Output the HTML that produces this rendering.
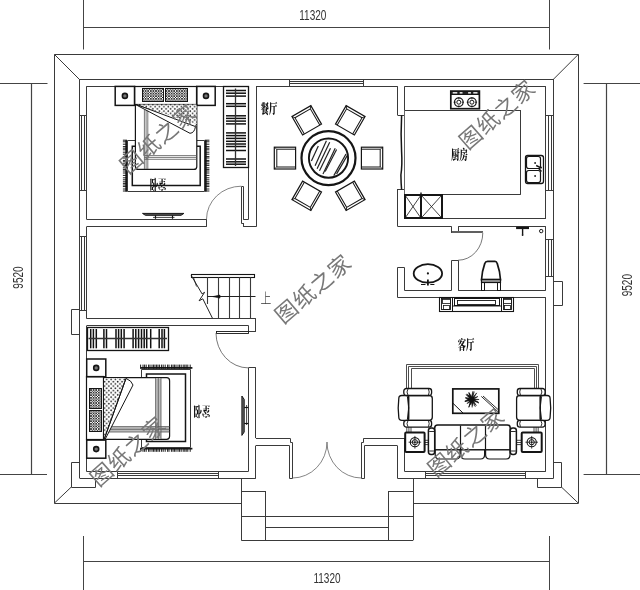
<!DOCTYPE html>
<html lang="zh"><head><meta charset="utf-8"><title>户型图</title>
<style>html,body{margin:0;padding:0;background:#fff}svg{display:block;will-change:transform}</style></head>
<body><svg width="640" height="590" viewBox="0 0 640 590">
<defs>
<pattern id="dots" width="4.4" height="4.4" patternUnits="userSpaceOnUse"><rect width="4.4" height="4.4" fill="#fff"/><circle cx="1.1" cy="1.1" r="0.85" fill="#222"/><circle cx="3.3" cy="3.3" r="0.85" fill="#222"/></pattern>
<pattern id="xh" width="2.6" height="2.6" patternUnits="userSpaceOnUse"><rect width="2.6" height="2.6" fill="#fff"/><path d="M0 0L2.6 2.6M2.6 0L0 2.6" stroke="#111" stroke-width="0.75"/></pattern>
</defs>
<rect width="640" height="590" fill="#fff"/>
<line x1="83.5" y1="0.0" x2="83.5" y2="49.5" stroke="#444" stroke-width="1"/>
<line x1="549.5" y1="0.0" x2="549.5" y2="49.5" stroke="#444" stroke-width="1"/>
<line x1="83.0" y1="27.5" x2="549.7" y2="27.5" stroke="#444" stroke-width="1.2"/>
<line x1="83.5" y1="536.0" x2="83.5" y2="590.0" stroke="#444" stroke-width="1"/>
<line x1="549.5" y1="536.0" x2="549.5" y2="590.0" stroke="#444" stroke-width="1"/>
<line x1="83.5" y1="561.5" x2="549.7" y2="561.5" stroke="#444" stroke-width="1.2"/>
<line x1="0.0" y1="83.5" x2="47.5" y2="83.5" stroke="#444" stroke-width="1"/>
<line x1="0.0" y1="474.5" x2="47.0" y2="474.5" stroke="#444" stroke-width="1"/>
<line x1="31.5" y1="83.2" x2="31.5" y2="474.7" stroke="#444" stroke-width="1.2"/>
<line x1="583.6" y1="83.5" x2="640.0" y2="83.5" stroke="#444" stroke-width="1"/>
<line x1="583.6" y1="474.5" x2="640.0" y2="474.5" stroke="#444" stroke-width="1"/>
<line x1="606.5" y1="83.2" x2="606.5" y2="474.7" stroke="#444" stroke-width="1.2"/>
<text transform="translate(312.8 20.3) rotate(0) scale(0.66 1)" font-family='"Liberation Sans", sans-serif' font-size="15.2" font-weight="normal" fill="#333" text-anchor="middle" >11320</text>
<text transform="translate(327.0 582.8) rotate(0) scale(0.66 1)" font-family='"Liberation Sans", sans-serif' font-size="15.2" font-weight="normal" fill="#333" text-anchor="middle" >11320</text>
<text transform="translate(23.2 277.5) rotate(-90) scale(0.66 1)" font-family='"Liberation Sans", sans-serif' font-size="15.2" font-weight="normal" fill="#333" text-anchor="middle" >9520</text>
<text transform="translate(632.0 285.2) rotate(-90) scale(0.66 1)" font-family='"Liberation Sans", sans-serif' font-size="15.2" font-weight="normal" fill="#333" text-anchor="middle" >9520</text>
<path d="M54.5 503.5 L54.5 54.5 L578.5 54.5 L578.5 503.5" fill="none" stroke="#3a3a3a" stroke-width="1"/>
<line x1="54.5" y1="54.5" x2="79.5" y2="79.5" stroke="#3a3a3a" stroke-width="1"/>
<line x1="578.2" y1="54.5" x2="553.7" y2="79.0" stroke="#3a3a3a" stroke-width="1"/>
<line x1="54.5" y1="503.0" x2="71.3" y2="487.0" stroke="#3a3a3a" stroke-width="1"/>
<line x1="578.2" y1="503.0" x2="561.4" y2="487.0" stroke="#3a3a3a" stroke-width="1"/>
<line x1="79.5" y1="79.5" x2="553.7" y2="79.5" stroke="#3a3a3a" stroke-width="1"/>
<line x1="79.5" y1="79.0" x2="79.5" y2="478.0" stroke="#3a3a3a" stroke-width="1"/>
<line x1="553.5" y1="79.0" x2="553.5" y2="478.0" stroke="#3a3a3a" stroke-width="1"/>
<line x1="79.5" y1="478.5" x2="255.9" y2="478.5" stroke="#3a3a3a" stroke-width="1"/>
<line x1="397.3" y1="478.5" x2="553.7" y2="478.5" stroke="#3a3a3a" stroke-width="1"/>
<path d="M79.5 462.5 L71.5 462.5 L71.5 487.5 L95.5 487.5 L95.5 478.5" fill="none" stroke="#3a3a3a" stroke-width="1"/>
<path d="M553.5 462.5 L561.5 462.5 L561.5 487.5 L537.5 487.5 L537.5 478.5" fill="none" stroke="#3a3a3a" stroke-width="1"/>
<path d="M79.5 309.5 L71.5 309.5 L71.5 334.5 L79.5 334.5" fill="none" stroke="#3a3a3a" stroke-width="1"/>
<path d="M553.5 281.5 L562.5 281.5 L562.5 305.5 L553.5 305.5" fill="none" stroke="#3a3a3a" stroke-width="1"/>
<line x1="86.5" y1="86.5" x2="248.6" y2="86.5" stroke="#3a3a3a" stroke-width="1"/>
<line x1="256.0" y1="86.5" x2="397.6" y2="86.5" stroke="#3a3a3a" stroke-width="1"/>
<line x1="404.6" y1="86.5" x2="545.8" y2="86.5" stroke="#3a3a3a" stroke-width="1"/>
<line x1="86.5" y1="86.3" x2="86.5" y2="219.3" stroke="#3a3a3a" stroke-width="1"/>
<line x1="86.5" y1="226.8" x2="86.5" y2="318.6" stroke="#3a3a3a" stroke-width="1"/>
<line x1="86.5" y1="325.9" x2="86.5" y2="471.5" stroke="#3a3a3a" stroke-width="1"/>
<line x1="545.5" y1="86.3" x2="545.5" y2="218.9" stroke="#3a3a3a" stroke-width="1"/>
<line x1="545.5" y1="226.4" x2="545.5" y2="290.3" stroke="#3a3a3a" stroke-width="1"/>
<line x1="545.5" y1="297.4" x2="545.5" y2="471.5" stroke="#3a3a3a" stroke-width="1"/>
<line x1="86.5" y1="471.5" x2="248.4" y2="471.5" stroke="#3a3a3a" stroke-width="1"/>
<line x1="404.6" y1="471.5" x2="545.8" y2="471.5" stroke="#3a3a3a" stroke-width="1"/>
<line x1="248.5" y1="86.3" x2="248.5" y2="219.3" stroke="#3a3a3a" stroke-width="1"/>
<line x1="256.5" y1="86.3" x2="256.5" y2="226.8" stroke="#3a3a3a" stroke-width="1"/>
<line x1="243.3" y1="219.5" x2="248.6" y2="219.5" stroke="#3a3a3a" stroke-width="1"/>
<line x1="243.5" y1="223.0" x2="243.5" y2="226.8" stroke="#3a3a3a" stroke-width="1"/>
<line x1="243.3" y1="226.5" x2="256.0" y2="226.5" stroke="#3a3a3a" stroke-width="1"/>
<path d="M243.5 219.5 L243.5 186.5 L241.5 186.5 L241.5 223.5 L243.5 223.5" fill="none" stroke="#3a3a3a" stroke-width="1"/>
<path d="M206.5 219.3 A34.8 33.1 0 0 1 241.3 186.2" fill="none" stroke="#666" stroke-width="0.8" />
<line x1="86.5" y1="219.5" x2="206.5" y2="219.5" stroke="#3a3a3a" stroke-width="1"/>
<line x1="86.5" y1="226.5" x2="206.5" y2="226.5" stroke="#3a3a3a" stroke-width="1"/>
<line x1="206.5" y1="219.3" x2="206.5" y2="226.8" stroke="#3a3a3a" stroke-width="1"/>
<line x1="397.5" y1="86.3" x2="397.5" y2="115.2" stroke="#3a3a3a" stroke-width="1"/>
<line x1="404.5" y1="86.3" x2="404.5" y2="115.2" stroke="#3a3a3a" stroke-width="1"/>
<line x1="397.6" y1="115.5" x2="404.6" y2="115.5" stroke="#3a3a3a" stroke-width="1"/>
<line x1="397.6" y1="189.5" x2="404.6" y2="189.5" stroke="#3a3a3a" stroke-width="1"/>
<line x1="397.5" y1="189.0" x2="397.5" y2="226.4" stroke="#3a3a3a" stroke-width="1"/>
<line x1="404.5" y1="189.0" x2="404.5" y2="218.9" stroke="#3a3a3a" stroke-width="1"/>
<path d="M401.6 115.3 Q400.6 135 401.6 152 Q402.4 165 400.9 175 Q401 183 401.6 189.6" fill="none" stroke="#151515" stroke-width="1.5" />
<line x1="404.6" y1="218.5" x2="545.8" y2="218.5" stroke="#3a3a3a" stroke-width="1"/>
<line x1="397.6" y1="226.5" x2="451.5" y2="226.5" stroke="#3a3a3a" stroke-width="1"/>
<line x1="458.2" y1="226.5" x2="545.8" y2="226.5" stroke="#3a3a3a" stroke-width="1"/>
<line x1="451.5" y1="226.4" x2="451.5" y2="232.7" stroke="#3a3a3a" stroke-width="1"/>
<line x1="458.5" y1="226.4" x2="458.5" y2="231.0" stroke="#3a3a3a" stroke-width="1"/>
<rect x="451.5" y="231.5" width="31.0" height="1.0" rx="0" fill="none" stroke="#3a3a3a" stroke-width="0.8"/>
<path d="M482.8 232.8 A24.6 27.4 0 0 1 458.2 260.2" fill="none" stroke="#555" stroke-width="0.8" />
<path d="M451.5 290.5 L451.5 260.5 L458.5 260.5 L458.5 290.5" fill="none" stroke="#3a3a3a" stroke-width="1"/>
<path d="M404.5 290.5 L404.5 267.5 L397.5 267.5 L397.5 297.5" fill="none" stroke="#3a3a3a" stroke-width="1"/>
<line x1="404.6" y1="290.5" x2="451.5" y2="290.5" stroke="#3a3a3a" stroke-width="1"/>
<line x1="458.2" y1="290.5" x2="545.8" y2="290.5" stroke="#3a3a3a" stroke-width="1"/>
<line x1="397.6" y1="297.5" x2="545.8" y2="297.5" stroke="#3a3a3a" stroke-width="1"/>
<line x1="86.5" y1="318.5" x2="255.9" y2="318.5" stroke="#3a3a3a" stroke-width="1"/>
<line x1="86.5" y1="325.5" x2="248.7" y2="325.5" stroke="#3a3a3a" stroke-width="1"/>
<line x1="248.5" y1="325.9" x2="248.5" y2="331.6" stroke="#3a3a3a" stroke-width="1"/>
<line x1="255.5" y1="318.6" x2="255.5" y2="331.6" stroke="#3a3a3a" stroke-width="1"/>
<line x1="248.7" y1="331.5" x2="255.9" y2="331.5" stroke="#3a3a3a" stroke-width="1"/>
<rect x="216.5" y="331.5" width="32.0" height="2.0" rx="0" fill="none" stroke="#151515" stroke-width="0.9"/>
<path d="M216 333 A32.4 35 0 0 0 248.4 367.9" fill="none" stroke="#555" stroke-width="0.8" />
<line x1="248.4" y1="367.5" x2="255.9" y2="367.5" stroke="#3a3a3a" stroke-width="1"/>
<line x1="248.5" y1="367.9" x2="248.5" y2="471.5" stroke="#3a3a3a" stroke-width="1"/>
<line x1="255.5" y1="367.9" x2="255.5" y2="438.0" stroke="#3a3a3a" stroke-width="1"/>
<line x1="255.9" y1="438.5" x2="290.4" y2="438.5" stroke="#3a3a3a" stroke-width="1"/>
<line x1="255.9" y1="445.5" x2="289.4" y2="445.5" stroke="#3a3a3a" stroke-width="1"/>
<line x1="255.5" y1="445.6" x2="255.5" y2="478.0" stroke="#3a3a3a" stroke-width="1"/>
<line x1="363.4" y1="438.5" x2="404.6" y2="438.5" stroke="#3a3a3a" stroke-width="1"/>
<line x1="364.6" y1="445.5" x2="397.3" y2="445.5" stroke="#3a3a3a" stroke-width="1"/>
<line x1="397.5" y1="445.6" x2="397.5" y2="478.0" stroke="#3a3a3a" stroke-width="1"/>
<line x1="404.5" y1="438.0" x2="404.5" y2="471.5" stroke="#3a3a3a" stroke-width="1"/>
<path d="M290.5 438.5 L290.5 442.5 L292.5 442.5 L292.5 478.5 L289.5 478.5 L289.5 445.5" fill="none" stroke="#3a3a3a" stroke-width="1"/>
<path d="M363.5 438.5 L363.5 442.5 L361.5 442.5 L361.5 478.5 L364.5 478.5 L364.5 445.5" fill="none" stroke="#3a3a3a" stroke-width="1"/>
<path d="M292.4 478 A34.6 36 0 0 0 327 442" fill="none" stroke="#666" stroke-width="0.8" />
<path d="M361.4 478 A34.4 36 0 0 1 327 442" fill="none" stroke="#666" stroke-width="0.8" />
<line x1="241.5" y1="478.0" x2="241.5" y2="540.3" stroke="#3a3a3a" stroke-width="1"/>
<line x1="413.5" y1="478.0" x2="413.5" y2="540.3" stroke="#3a3a3a" stroke-width="1"/>
<line x1="241.3" y1="540.5" x2="413.0" y2="540.5" stroke="#3a3a3a" stroke-width="1"/>
<line x1="241.3" y1="491.5" x2="265.4" y2="491.5" stroke="#3a3a3a" stroke-width="1"/>
<line x1="265.5" y1="491.0" x2="265.5" y2="540.3" stroke="#3a3a3a" stroke-width="1"/>
<line x1="388.2" y1="491.5" x2="413.0" y2="491.5" stroke="#3a3a3a" stroke-width="1"/>
<line x1="388.5" y1="491.0" x2="388.5" y2="540.3" stroke="#3a3a3a" stroke-width="1"/>
<line x1="241.3" y1="516.5" x2="413.0" y2="516.5" stroke="#3a3a3a" stroke-width="1"/>
<line x1="265.4" y1="527.5" x2="388.2" y2="527.5" stroke="#3a3a3a" stroke-width="1"/>
<line x1="54.5" y1="503.5" x2="241.3" y2="503.5" stroke="#3a3a3a" stroke-width="1"/>
<line x1="413.0" y1="503.5" x2="578.2" y2="503.5" stroke="#3a3a3a" stroke-width="1"/>
<line x1="81.5" y1="115.0" x2="81.5" y2="190.0" stroke="#3a3a3a" stroke-width="1"/>
<line x1="84.5" y1="115.0" x2="84.5" y2="190.0" stroke="#3a3a3a" stroke-width="1"/>
<line x1="79.5" y1="115.5" x2="86.5" y2="115.5" stroke="#3a3a3a" stroke-width="1"/>
<line x1="79.5" y1="190.5" x2="86.5" y2="190.5" stroke="#3a3a3a" stroke-width="1"/>
<line x1="81.5" y1="236.0" x2="81.5" y2="310.5" stroke="#3a3a3a" stroke-width="1"/>
<line x1="84.5" y1="236.0" x2="84.5" y2="310.5" stroke="#3a3a3a" stroke-width="1"/>
<line x1="79.5" y1="236.5" x2="86.5" y2="236.5" stroke="#3a3a3a" stroke-width="1"/>
<line x1="79.5" y1="310.5" x2="86.5" y2="310.5" stroke="#3a3a3a" stroke-width="1"/>
<line x1="548.5" y1="115.3" x2="548.5" y2="190.1" stroke="#3a3a3a" stroke-width="1"/>
<line x1="551.5" y1="115.3" x2="551.5" y2="190.1" stroke="#3a3a3a" stroke-width="1"/>
<line x1="545.8" y1="115.5" x2="553.7" y2="115.5" stroke="#3a3a3a" stroke-width="1"/>
<line x1="545.8" y1="190.5" x2="553.7" y2="190.5" stroke="#3a3a3a" stroke-width="1"/>
<line x1="548.5" y1="239.3" x2="548.5" y2="276.7" stroke="#3a3a3a" stroke-width="1"/>
<line x1="551.5" y1="239.3" x2="551.5" y2="276.7" stroke="#3a3a3a" stroke-width="1"/>
<line x1="545.8" y1="239.5" x2="553.7" y2="239.5" stroke="#3a3a3a" stroke-width="1"/>
<line x1="545.8" y1="276.5" x2="553.7" y2="276.5" stroke="#3a3a3a" stroke-width="1"/>
<line x1="289.5" y1="81.5" x2="363.8" y2="81.5" stroke="#3a3a3a" stroke-width="1"/>
<line x1="289.5" y1="83.5" x2="363.8" y2="83.5" stroke="#3a3a3a" stroke-width="1"/>
<line x1="289.5" y1="79.0" x2="289.5" y2="86.3" stroke="#3a3a3a" stroke-width="1"/>
<line x1="363.5" y1="79.0" x2="363.5" y2="86.3" stroke="#3a3a3a" stroke-width="1"/>
<line x1="117.7" y1="473.5" x2="218.5" y2="473.5" stroke="#3a3a3a" stroke-width="1"/>
<line x1="117.7" y1="475.5" x2="218.5" y2="475.5" stroke="#3a3a3a" stroke-width="1"/>
<line x1="117.5" y1="471.5" x2="117.5" y2="478.0" stroke="#3a3a3a" stroke-width="1"/>
<line x1="218.5" y1="471.5" x2="218.5" y2="478.0" stroke="#3a3a3a" stroke-width="1"/>
<line x1="425.5" y1="473.5" x2="525.5" y2="473.5" stroke="#3a3a3a" stroke-width="1"/>
<line x1="425.5" y1="475.5" x2="525.5" y2="475.5" stroke="#3a3a3a" stroke-width="1"/>
<line x1="425.5" y1="471.5" x2="425.5" y2="478.0" stroke="#3a3a3a" stroke-width="1"/>
<line x1="525.5" y1="471.5" x2="525.5" y2="478.0" stroke="#3a3a3a" stroke-width="1"/>
<rect x="125.3" y="140.2" width="1.7" height="51.3" rx="0" fill="#1c1c1c" stroke="#151515" stroke-width="0"/>
<line x1="127.0" y1="140.2" x2="122.9" y2="140.2" stroke="#111" stroke-width="0.96"/>
<line x1="127.0" y1="141.8" x2="122.9" y2="141.8" stroke="#111" stroke-width="0.96"/>
<line x1="127.0" y1="144.2" x2="122.9" y2="144.2" stroke="#111" stroke-width="0.96"/>
<line x1="127.0" y1="146.6" x2="122.9" y2="146.6" stroke="#111" stroke-width="0.96"/>
<line x1="127.0" y1="148.2" x2="122.9" y2="148.2" stroke="#111" stroke-width="0.96"/>
<line x1="127.0" y1="149.8" x2="122.9" y2="149.8" stroke="#111" stroke-width="0.96"/>
<line x1="127.0" y1="152.2" x2="122.9" y2="152.2" stroke="#111" stroke-width="0.96"/>
<line x1="127.0" y1="154.2" x2="122.9" y2="154.2" stroke="#111" stroke-width="0.96"/>
<line x1="127.0" y1="156.6" x2="122.9" y2="156.6" stroke="#111" stroke-width="0.96"/>
<line x1="127.0" y1="158.0" x2="122.9" y2="158.0" stroke="#111" stroke-width="0.96"/>
<line x1="127.0" y1="160.4" x2="122.9" y2="160.4" stroke="#111" stroke-width="0.96"/>
<line x1="127.0" y1="161.8" x2="122.9" y2="161.8" stroke="#111" stroke-width="0.96"/>
<line x1="127.0" y1="163.8" x2="122.9" y2="163.8" stroke="#111" stroke-width="0.96"/>
<line x1="127.0" y1="165.4" x2="122.9" y2="165.4" stroke="#111" stroke-width="0.96"/>
<line x1="127.0" y1="167.8" x2="122.9" y2="167.8" stroke="#111" stroke-width="0.96"/>
<line x1="127.0" y1="169.4" x2="122.9" y2="169.4" stroke="#111" stroke-width="0.96"/>
<line x1="127.0" y1="171.0" x2="122.9" y2="171.0" stroke="#111" stroke-width="0.96"/>
<line x1="127.0" y1="173.0" x2="122.9" y2="173.0" stroke="#111" stroke-width="0.96"/>
<line x1="127.0" y1="175.4" x2="122.9" y2="175.4" stroke="#111" stroke-width="0.96"/>
<line x1="127.0" y1="177.8" x2="122.9" y2="177.8" stroke="#111" stroke-width="0.96"/>
<line x1="127.0" y1="179.8" x2="122.9" y2="179.8" stroke="#111" stroke-width="0.96"/>
<line x1="127.0" y1="181.8" x2="122.9" y2="181.8" stroke="#111" stroke-width="0.96"/>
<line x1="127.0" y1="183.4" x2="122.9" y2="183.4" stroke="#111" stroke-width="0.96"/>
<line x1="127.0" y1="185.0" x2="122.9" y2="185.0" stroke="#111" stroke-width="0.96"/>
<line x1="127.0" y1="186.6" x2="122.9" y2="186.6" stroke="#111" stroke-width="0.96"/>
<line x1="127.0" y1="189.0" x2="122.9" y2="189.0" stroke="#111" stroke-width="0.96"/>
<line x1="127.0" y1="191.0" x2="122.9" y2="191.0" stroke="#111" stroke-width="0.96"/>
<rect x="204.8" y="140.2" width="1.9" height="51.3" rx="0" fill="#1c1c1c" stroke="#151515" stroke-width="0"/>
<line x1="204.8" y1="140.2" x2="209.4" y2="140.2" stroke="#111" stroke-width="0.96"/>
<line x1="204.8" y1="141.8" x2="209.4" y2="141.8" stroke="#111" stroke-width="0.96"/>
<line x1="204.8" y1="144.2" x2="209.4" y2="144.2" stroke="#111" stroke-width="0.96"/>
<line x1="204.8" y1="146.6" x2="209.4" y2="146.6" stroke="#111" stroke-width="0.96"/>
<line x1="204.8" y1="148.2" x2="209.4" y2="148.2" stroke="#111" stroke-width="0.96"/>
<line x1="204.8" y1="149.8" x2="209.4" y2="149.8" stroke="#111" stroke-width="0.96"/>
<line x1="204.8" y1="152.2" x2="209.4" y2="152.2" stroke="#111" stroke-width="0.96"/>
<line x1="204.8" y1="154.2" x2="209.4" y2="154.2" stroke="#111" stroke-width="0.96"/>
<line x1="204.8" y1="156.6" x2="209.4" y2="156.6" stroke="#111" stroke-width="0.96"/>
<line x1="204.8" y1="158.0" x2="209.4" y2="158.0" stroke="#111" stroke-width="0.96"/>
<line x1="204.8" y1="160.4" x2="209.4" y2="160.4" stroke="#111" stroke-width="0.96"/>
<line x1="204.8" y1="161.8" x2="209.4" y2="161.8" stroke="#111" stroke-width="0.96"/>
<line x1="204.8" y1="163.8" x2="209.4" y2="163.8" stroke="#111" stroke-width="0.96"/>
<line x1="204.8" y1="165.4" x2="209.4" y2="165.4" stroke="#111" stroke-width="0.96"/>
<line x1="204.8" y1="167.8" x2="209.4" y2="167.8" stroke="#111" stroke-width="0.96"/>
<line x1="204.8" y1="169.4" x2="209.4" y2="169.4" stroke="#111" stroke-width="0.96"/>
<line x1="204.8" y1="171.0" x2="209.4" y2="171.0" stroke="#111" stroke-width="0.96"/>
<line x1="204.8" y1="173.0" x2="209.4" y2="173.0" stroke="#111" stroke-width="0.96"/>
<line x1="204.8" y1="175.4" x2="209.4" y2="175.4" stroke="#111" stroke-width="0.96"/>
<line x1="204.8" y1="177.8" x2="209.4" y2="177.8" stroke="#111" stroke-width="0.96"/>
<line x1="204.8" y1="179.8" x2="209.4" y2="179.8" stroke="#111" stroke-width="0.96"/>
<line x1="204.8" y1="181.8" x2="209.4" y2="181.8" stroke="#111" stroke-width="0.96"/>
<line x1="204.8" y1="183.4" x2="209.4" y2="183.4" stroke="#111" stroke-width="0.96"/>
<line x1="204.8" y1="185.0" x2="209.4" y2="185.0" stroke="#111" stroke-width="0.96"/>
<line x1="204.8" y1="186.6" x2="209.4" y2="186.6" stroke="#111" stroke-width="0.96"/>
<line x1="204.8" y1="189.0" x2="209.4" y2="189.0" stroke="#111" stroke-width="0.96"/>
<line x1="204.8" y1="191.0" x2="209.4" y2="191.0" stroke="#111" stroke-width="0.96"/>
<path d="M135.5 140.5 L127.5 140.5 L127.5 191.5 L204.5 191.5 L204.5 140.5 L196.5 140.5" fill="none" stroke="#3a3a3a" stroke-width="1"/>
<path d="M135.4 146.2 L132.3 146.2 L132.3 185.6 L200.2 185.6 L200.2 146.2 L196.8 146.2" fill="none" stroke="#151515" stroke-width="1.5"/>
<path d="M135.4 104 L135.4 166.4 Q135.4 169.4 138.4 169.4 L193.8 169.4 Q196.8 169.4 196.8 166.4 L196.8 104" fill="#fff" stroke="#151515" stroke-width="1.2" />
<rect x="134.5" y="86.5" width="62.0" height="18.0" rx="0" fill="#fff" stroke="#151515" stroke-width="1.2"/>
<rect x="142.5" y="88.5" width="21.0" height="13.0" rx="0" fill="url(#xh)" stroke="#151515" stroke-width="1"/>
<rect x="165.5" y="88.5" width="22.0" height="13.0" rx="0" fill="url(#xh)" stroke="#151515" stroke-width="1"/>
<rect x="115.2" y="86.4" width="19.4" height="19.0" rx="0" fill="none" stroke="#151515" stroke-width="1.5"/>
<circle cx="124.9" cy="95.9" r="2.5" fill="#777" stroke="#151515" stroke-width="1.6"/>
<rect x="196.8" y="86.4" width="18.4" height="19.0" rx="0" fill="none" stroke="#151515" stroke-width="1.5"/>
<circle cx="206.0" cy="95.9" r="2.5" fill="#777" stroke="#151515" stroke-width="1.6"/>
<line x1="144.4" y1="110.0" x2="144.4" y2="169.0" stroke="#555" stroke-width="0.8"/>
<line x1="146.1" y1="110.0" x2="146.1" y2="169.0" stroke="#555" stroke-width="0.8"/>
<line x1="147.8" y1="110.0" x2="147.8" y2="169.0" stroke="#555" stroke-width="0.8"/>
<line x1="144.4" y1="155.6" x2="196.8" y2="155.6" stroke="#555" stroke-width="0.8"/>
<line x1="144.4" y1="157.4" x2="196.8" y2="157.4" stroke="#555" stroke-width="0.8"/>
<line x1="144.4" y1="159.3" x2="196.8" y2="159.3" stroke="#555" stroke-width="0.8"/>
<path d="M136 104.4 L196.6 104.4 L196.6 126 L195 126.4 Z" fill="url(#dots)" stroke="#151515" stroke-width="0" />
<path d="M136 104.4 L195 126.4" fill="none" stroke="#151515" stroke-width="1" />
<path d="M136 104.8 L190 133.3 Q194.5 133 195.5 126.4 L196.6 124" fill="#fff" stroke="#151515" stroke-width="1" />
<path d="M136 104.4 L195 126.4" fill="none" stroke="#151515" stroke-width="1" />
<rect x="223.5" y="86.5" width="25.0" height="81.0" rx="0" fill="none" stroke="#151515" stroke-width="1.3"/>
<line x1="226.0" y1="90.5" x2="246.0" y2="90.5" stroke="#111" stroke-width="1.5"/>
<line x1="226.0" y1="93.2" x2="246.0" y2="93.2" stroke="#111" stroke-width="1.5"/>
<line x1="226.0" y1="96.1" x2="246.0" y2="96.1" stroke="#111" stroke-width="1.5"/>
<line x1="226.0" y1="103.7" x2="246.0" y2="103.7" stroke="#111" stroke-width="1.5"/>
<line x1="226.0" y1="106.3" x2="246.0" y2="106.3" stroke="#111" stroke-width="1.5"/>
<line x1="226.0" y1="115.8" x2="246.0" y2="115.8" stroke="#111" stroke-width="1.5"/>
<line x1="226.0" y1="118.4" x2="246.0" y2="118.4" stroke="#111" stroke-width="1.5"/>
<line x1="226.0" y1="121.1" x2="246.0" y2="121.1" stroke="#111" stroke-width="1.5"/>
<line x1="226.0" y1="123.9" x2="246.0" y2="123.9" stroke="#111" stroke-width="1.5"/>
<line x1="226.0" y1="132.9" x2="246.0" y2="132.9" stroke="#111" stroke-width="1.5"/>
<line x1="226.0" y1="135.6" x2="246.0" y2="135.6" stroke="#111" stroke-width="1.5"/>
<line x1="226.0" y1="138.4" x2="246.0" y2="138.4" stroke="#111" stroke-width="1.5"/>
<line x1="226.0" y1="141.3" x2="246.0" y2="141.3" stroke="#111" stroke-width="1.5"/>
<line x1="226.0" y1="144.0" x2="246.0" y2="144.0" stroke="#111" stroke-width="1.5"/>
<line x1="226.0" y1="146.5" x2="246.0" y2="146.5" stroke="#111" stroke-width="1.5"/>
<line x1="226.0" y1="150.5" x2="246.0" y2="150.5" stroke="#111" stroke-width="1.5"/>
<line x1="226.0" y1="159.0" x2="246.0" y2="159.0" stroke="#111" stroke-width="1.5"/>
<line x1="226.0" y1="161.8" x2="246.0" y2="161.8" stroke="#111" stroke-width="1.5"/>
<line x1="226.0" y1="164.2" x2="246.0" y2="164.2" stroke="#111" stroke-width="1.5"/>
<line x1="235.5" y1="88.5" x2="235.5" y2="166.0" stroke="#333" stroke-width="1.3"/>
<path d="M142.5 213.4 L183.9 213.4 L181 215.3 L145.4 215.3 Z" fill="#555" stroke="#151515" stroke-width="1" />
<line x1="155.5" y1="215.3" x2="155.5" y2="218.8" stroke="#151515" stroke-width="1.2"/>
<line x1="172.5" y1="215.3" x2="172.5" y2="218.8" stroke="#151515" stroke-width="1.2"/>
<line x1="153.0" y1="217.4" x2="174.5" y2="217.4" stroke="#151515" stroke-width="0.8"/>
<rect x="140.6" y="367.0" width="51.8" height="1.8" rx="0" fill="#1c1c1c" stroke="#151515" stroke-width="0"/>
<line x1="140.6" y1="368.8" x2="140.6" y2="364.6" stroke="#111" stroke-width="0.96"/>
<line x1="143.0" y1="368.8" x2="143.0" y2="364.6" stroke="#111" stroke-width="0.96"/>
<line x1="144.6" y1="368.8" x2="144.6" y2="364.6" stroke="#111" stroke-width="0.96"/>
<line x1="146.2" y1="368.8" x2="146.2" y2="364.6" stroke="#111" stroke-width="0.96"/>
<line x1="148.6" y1="368.8" x2="148.6" y2="364.6" stroke="#111" stroke-width="0.96"/>
<line x1="150.0" y1="368.8" x2="150.0" y2="364.6" stroke="#111" stroke-width="0.96"/>
<line x1="152.0" y1="368.8" x2="152.0" y2="364.6" stroke="#111" stroke-width="0.96"/>
<line x1="153.6" y1="368.8" x2="153.6" y2="364.6" stroke="#111" stroke-width="0.96"/>
<line x1="155.0" y1="368.8" x2="155.0" y2="364.6" stroke="#111" stroke-width="0.96"/>
<line x1="156.6" y1="368.8" x2="156.6" y2="364.6" stroke="#111" stroke-width="0.96"/>
<line x1="158.0" y1="368.8" x2="158.0" y2="364.6" stroke="#111" stroke-width="0.96"/>
<line x1="159.6" y1="368.8" x2="159.6" y2="364.6" stroke="#111" stroke-width="0.96"/>
<line x1="161.6" y1="368.8" x2="161.6" y2="364.6" stroke="#111" stroke-width="0.96"/>
<line x1="163.2" y1="368.8" x2="163.2" y2="364.6" stroke="#111" stroke-width="0.96"/>
<line x1="165.2" y1="368.8" x2="165.2" y2="364.6" stroke="#111" stroke-width="0.96"/>
<line x1="167.6" y1="368.8" x2="167.6" y2="364.6" stroke="#111" stroke-width="0.96"/>
<line x1="169.0" y1="368.8" x2="169.0" y2="364.6" stroke="#111" stroke-width="0.96"/>
<line x1="171.4" y1="368.8" x2="171.4" y2="364.6" stroke="#111" stroke-width="0.96"/>
<line x1="173.0" y1="368.8" x2="173.0" y2="364.6" stroke="#111" stroke-width="0.96"/>
<line x1="174.4" y1="368.8" x2="174.4" y2="364.6" stroke="#111" stroke-width="0.96"/>
<line x1="176.0" y1="368.8" x2="176.0" y2="364.6" stroke="#111" stroke-width="0.96"/>
<line x1="178.0" y1="368.8" x2="178.0" y2="364.6" stroke="#111" stroke-width="0.96"/>
<line x1="179.6" y1="368.8" x2="179.6" y2="364.6" stroke="#111" stroke-width="0.96"/>
<line x1="181.2" y1="368.8" x2="181.2" y2="364.6" stroke="#111" stroke-width="0.96"/>
<line x1="183.2" y1="368.8" x2="183.2" y2="364.6" stroke="#111" stroke-width="0.96"/>
<line x1="184.8" y1="368.8" x2="184.8" y2="364.6" stroke="#111" stroke-width="0.96"/>
<line x1="186.2" y1="368.8" x2="186.2" y2="364.6" stroke="#111" stroke-width="0.96"/>
<line x1="187.8" y1="368.8" x2="187.8" y2="364.6" stroke="#111" stroke-width="0.96"/>
<line x1="190.2" y1="368.8" x2="190.2" y2="364.6" stroke="#111" stroke-width="0.96"/>
<rect x="140.6" y="447.8" width="51.8" height="1.7" rx="0" fill="#1c1c1c" stroke="#151515" stroke-width="0"/>
<line x1="140.6" y1="447.8" x2="140.6" y2="451.8" stroke="#111" stroke-width="0.96"/>
<line x1="143.0" y1="447.8" x2="143.0" y2="451.8" stroke="#111" stroke-width="0.96"/>
<line x1="144.6" y1="447.8" x2="144.6" y2="451.8" stroke="#111" stroke-width="0.96"/>
<line x1="146.2" y1="447.8" x2="146.2" y2="451.8" stroke="#111" stroke-width="0.96"/>
<line x1="148.6" y1="447.8" x2="148.6" y2="451.8" stroke="#111" stroke-width="0.96"/>
<line x1="150.0" y1="447.8" x2="150.0" y2="451.8" stroke="#111" stroke-width="0.96"/>
<line x1="152.0" y1="447.8" x2="152.0" y2="451.8" stroke="#111" stroke-width="0.96"/>
<line x1="153.6" y1="447.8" x2="153.6" y2="451.8" stroke="#111" stroke-width="0.96"/>
<line x1="155.0" y1="447.8" x2="155.0" y2="451.8" stroke="#111" stroke-width="0.96"/>
<line x1="156.6" y1="447.8" x2="156.6" y2="451.8" stroke="#111" stroke-width="0.96"/>
<line x1="158.0" y1="447.8" x2="158.0" y2="451.8" stroke="#111" stroke-width="0.96"/>
<line x1="159.6" y1="447.8" x2="159.6" y2="451.8" stroke="#111" stroke-width="0.96"/>
<line x1="161.6" y1="447.8" x2="161.6" y2="451.8" stroke="#111" stroke-width="0.96"/>
<line x1="163.2" y1="447.8" x2="163.2" y2="451.8" stroke="#111" stroke-width="0.96"/>
<line x1="165.2" y1="447.8" x2="165.2" y2="451.8" stroke="#111" stroke-width="0.96"/>
<line x1="167.6" y1="447.8" x2="167.6" y2="451.8" stroke="#111" stroke-width="0.96"/>
<line x1="169.0" y1="447.8" x2="169.0" y2="451.8" stroke="#111" stroke-width="0.96"/>
<line x1="171.4" y1="447.8" x2="171.4" y2="451.8" stroke="#111" stroke-width="0.96"/>
<line x1="173.0" y1="447.8" x2="173.0" y2="451.8" stroke="#111" stroke-width="0.96"/>
<line x1="174.4" y1="447.8" x2="174.4" y2="451.8" stroke="#111" stroke-width="0.96"/>
<line x1="176.0" y1="447.8" x2="176.0" y2="451.8" stroke="#111" stroke-width="0.96"/>
<line x1="178.0" y1="447.8" x2="178.0" y2="451.8" stroke="#111" stroke-width="0.96"/>
<line x1="179.6" y1="447.8" x2="179.6" y2="451.8" stroke="#111" stroke-width="0.96"/>
<line x1="181.2" y1="447.8" x2="181.2" y2="451.8" stroke="#111" stroke-width="0.96"/>
<line x1="183.2" y1="447.8" x2="183.2" y2="451.8" stroke="#111" stroke-width="0.96"/>
<line x1="184.8" y1="447.8" x2="184.8" y2="451.8" stroke="#111" stroke-width="0.96"/>
<line x1="186.2" y1="447.8" x2="186.2" y2="451.8" stroke="#111" stroke-width="0.96"/>
<line x1="187.8" y1="447.8" x2="187.8" y2="451.8" stroke="#111" stroke-width="0.96"/>
<line x1="190.2" y1="447.8" x2="190.2" y2="451.8" stroke="#111" stroke-width="0.96"/>
<path d="M141.5 377.5 L141.5 369.5 L190.5 369.5 L190.5 447.5 L141.5 447.5 L141.5 439.5" fill="none" stroke="#3a3a3a" stroke-width="1"/>
<path d="M146.5 377.7 L146.5 374.0 L185.5 374.0 L185.5 441.6 L146.5 441.6 L146.5 439.3" fill="none" stroke="#151515" stroke-width="1.5"/>
<path d="M103.6 377.7 L166.6 377.7 Q169.6 377.7 169.6 380.7 L169.6 436.3 Q169.6 439.3 166.6 439.3 L103.6 439.3" fill="#fff" stroke="#151515" stroke-width="1.2" />
<rect x="86.5" y="376.5" width="17.0" height="63.0" rx="0" fill="#fff" stroke="#151515" stroke-width="1.2"/>
<rect x="89.5" y="388.5" width="12.0" height="20.0" rx="0" fill="url(#xh)" stroke="#151515" stroke-width="1"/>
<rect x="89.5" y="410.5" width="12.0" height="21.0" rx="0" fill="url(#xh)" stroke="#151515" stroke-width="1"/>
<rect x="86.7" y="359.0" width="19.1" height="17.8" rx="0" fill="none" stroke="#151515" stroke-width="1.5"/>
<circle cx="96.2" cy="367.9" r="2.5" fill="#777" stroke="#151515" stroke-width="1.6"/>
<rect x="86.7" y="440.1" width="19.1" height="18.1" rx="0" fill="none" stroke="#151515" stroke-width="1.5"/>
<circle cx="96.2" cy="449.1" r="2.5" fill="#777" stroke="#151515" stroke-width="1.6"/>
<rect x="155.6" y="378.3" width="5.4" height="60.4" rx="0" fill="#bdbdbd" stroke="#151515" stroke-width="0"/>
<rect x="108.0" y="426.6" width="61.0" height="5.4" rx="0" fill="#bdbdbd" stroke="#151515" stroke-width="0"/>
<line x1="155.6" y1="378.0" x2="155.6" y2="439.0" stroke="#555" stroke-width="0.8"/>
<line x1="158.3" y1="378.0" x2="158.3" y2="439.0" stroke="#555" stroke-width="0.8"/>
<line x1="161.0" y1="378.0" x2="161.0" y2="439.0" stroke="#555" stroke-width="0.8"/>
<line x1="108.0" y1="426.6" x2="169.6" y2="426.6" stroke="#555" stroke-width="0.8"/>
<line x1="108.0" y1="429.3" x2="169.6" y2="429.3" stroke="#555" stroke-width="0.8"/>
<line x1="108.0" y1="432.0" x2="169.6" y2="432.0" stroke="#555" stroke-width="0.8"/>
<path d="M104 378.1 L126 378.1 L104.2 439 Z" fill="url(#dots)" stroke="#151515" stroke-width="0" />
<path d="M126 378.4 Q131.5 380.5 133 385 L105.2 439.2 L104.2 439.2 Z" fill="#fff" stroke="#151515" stroke-width="1" />
<path d="M126 378.4 L104.2 439.2" fill="none" stroke="#151515" stroke-width="1" />
<rect x="87.5" y="327.5" width="81.0" height="23.0" rx="0" fill="none" stroke="#151515" stroke-width="1.3"/>
<line x1="90.7" y1="329.0" x2="90.7" y2="348.3" stroke="#111" stroke-width="1.5"/>
<line x1="93.4" y1="329.0" x2="93.4" y2="348.3" stroke="#111" stroke-width="1.5"/>
<line x1="96.3" y1="329.0" x2="96.3" y2="348.3" stroke="#111" stroke-width="1.5"/>
<line x1="103.9" y1="329.0" x2="103.9" y2="348.3" stroke="#111" stroke-width="1.5"/>
<line x1="106.5" y1="329.0" x2="106.5" y2="348.3" stroke="#111" stroke-width="1.5"/>
<line x1="116.0" y1="329.0" x2="116.0" y2="348.3" stroke="#111" stroke-width="1.5"/>
<line x1="118.6" y1="329.0" x2="118.6" y2="348.3" stroke="#111" stroke-width="1.5"/>
<line x1="121.3" y1="329.0" x2="121.3" y2="348.3" stroke="#111" stroke-width="1.5"/>
<line x1="124.1" y1="329.0" x2="124.1" y2="348.3" stroke="#111" stroke-width="1.5"/>
<line x1="133.1" y1="329.0" x2="133.1" y2="348.3" stroke="#111" stroke-width="1.5"/>
<line x1="135.8" y1="329.0" x2="135.8" y2="348.3" stroke="#111" stroke-width="1.5"/>
<line x1="138.6" y1="329.0" x2="138.6" y2="348.3" stroke="#111" stroke-width="1.5"/>
<line x1="141.5" y1="329.0" x2="141.5" y2="348.3" stroke="#111" stroke-width="1.5"/>
<line x1="144.2" y1="329.0" x2="144.2" y2="348.3" stroke="#111" stroke-width="1.5"/>
<line x1="146.7" y1="329.0" x2="146.7" y2="348.3" stroke="#111" stroke-width="1.5"/>
<line x1="150.7" y1="329.0" x2="150.7" y2="348.3" stroke="#111" stroke-width="1.5"/>
<line x1="159.2" y1="329.0" x2="159.2" y2="348.3" stroke="#111" stroke-width="1.5"/>
<line x1="162.0" y1="329.0" x2="162.0" y2="348.3" stroke="#111" stroke-width="1.5"/>
<line x1="164.4" y1="329.0" x2="164.4" y2="348.3" stroke="#111" stroke-width="1.5"/>
<line x1="88.5" y1="338.5" x2="167.0" y2="338.5" stroke="#333" stroke-width="1.3"/>
<path d="M241.9 396 L241.9 435.4 L244.2 432 L244.2 399.4 Z" fill="#666" stroke="#151515" stroke-width="1" />
<line x1="244.2" y1="407.5" x2="248.2" y2="407.5" stroke="#151515" stroke-width="1.2"/>
<line x1="244.2" y1="423.5" x2="248.2" y2="423.5" stroke="#151515" stroke-width="1.2"/>
<line x1="246.6" y1="405.0" x2="246.6" y2="425.0" stroke="#151515" stroke-width="0.8"/>
<g transform="translate(372.1 158.1) rotate(0)" fill="none" stroke="#151515"><rect x="-10.7" y="-10.9" width="21.3" height="21.8" stroke-width="1.2" fill="#fff"/><path d="M-10.7 -8.9 L8.1 -8.9 L8.1 8.9 L-10.7 8.9" stroke-width="1"/><path d="M10.7 -10.9 L8.1 -8.9 M10.7 10.9 L8.1 8.9" stroke-width="0.8"/></g>
<g transform="translate(350.3 195.9) rotate(60)" fill="none" stroke="#151515"><rect x="-10.7" y="-10.9" width="21.3" height="21.8" stroke-width="1.2" fill="#fff"/><path d="M-10.7 -8.9 L8.1 -8.9 L8.1 8.9 L-10.7 8.9" stroke-width="1"/><path d="M10.7 -10.9 L8.1 -8.9 M10.7 10.9 L8.1 8.9" stroke-width="0.8"/></g>
<g transform="translate(306.7 195.9) rotate(120)" fill="none" stroke="#151515"><rect x="-10.7" y="-10.9" width="21.3" height="21.8" stroke-width="1.2" fill="#fff"/><path d="M-10.7 -8.9 L8.1 -8.9 L8.1 8.9 L-10.7 8.9" stroke-width="1"/><path d="M10.7 -10.9 L8.1 -8.9 M10.7 10.9 L8.1 8.9" stroke-width="0.8"/></g>
<g transform="translate(284.9 158.1) rotate(180)" fill="none" stroke="#151515"><rect x="-10.7" y="-10.9" width="21.3" height="21.8" stroke-width="1.2" fill="#fff"/><path d="M-10.7 -8.9 L8.1 -8.9 L8.1 8.9 L-10.7 8.9" stroke-width="1"/><path d="M10.7 -10.9 L8.1 -8.9 M10.7 10.9 L8.1 8.9" stroke-width="0.8"/></g>
<g transform="translate(306.7 120.3) rotate(240)" fill="none" stroke="#151515"><rect x="-10.7" y="-10.9" width="21.3" height="21.8" stroke-width="1.2" fill="#fff"/><path d="M-10.7 -8.9 L8.1 -8.9 L8.1 8.9 L-10.7 8.9" stroke-width="1"/><path d="M10.7 -10.9 L8.1 -8.9 M10.7 10.9 L8.1 8.9" stroke-width="0.8"/></g>
<g transform="translate(350.3 120.3) rotate(300)" fill="none" stroke="#151515"><rect x="-10.7" y="-10.9" width="21.3" height="21.8" stroke-width="1.2" fill="#fff"/><path d="M-10.7 -8.9 L8.1 -8.9 L8.1 8.9 L-10.7 8.9" stroke-width="1"/><path d="M10.7 -10.9 L8.1 -8.9 M10.7 10.9 L8.1 8.9" stroke-width="0.8"/></g>
<circle cx="328.5" cy="158.1" r="27.0" fill="#fff" stroke="#151515" stroke-width="2.2"/>
<circle cx="328.5" cy="158.1" r="19.6" fill="#fff" stroke="#151515" stroke-width="1.9"/>
<clipPath id="tclip"><circle cx="328.5" cy="158.1" r="18.8"/></clipPath>
<g clip-path="url(#tclip)" stroke="#222" stroke-width="1.2"><line x1="311.4" y1="161.1" x2="318.3" y2="145.9"/><line x1="315.1" y1="165.8" x2="326.4" y2="140.8"/><line x1="317.1" y1="168.7" x2="329.7" y2="142.2"/><line x1="319.5" y1="170.7" x2="330.5" y2="148.3"/><line x1="323.0" y1="173.9" x2="335.2" y2="148.3"/><line x1="325.2" y1="171.5" x2="336.6" y2="149.5"/><line x1="333.8" y1="175.6" x2="346.0" y2="154.0"/><line x1="336.6" y1="173.9" x2="347.2" y2="155.6"/></g>
<line x1="404.6" y1="110.5" x2="520.9" y2="110.5" stroke="#3a3a3a" stroke-width="1"/>
<line x1="520.5" y1="110.1" x2="520.5" y2="194.0" stroke="#3a3a3a" stroke-width="1"/>
<line x1="404.6" y1="194.5" x2="520.9" y2="194.5" stroke="#3a3a3a" stroke-width="1"/>
<line x1="404.5" y1="110.1" x2="404.5" y2="194.0" stroke="#666" stroke-width="1"/>
<rect x="450.8" y="91.1" width="28.6" height="17.6" rx="0" fill="#fff" stroke="#151515" stroke-width="1.7"/>
<rect x="450.5" y="91.5" width="29.0" height="3.0" rx="0" fill="#222" stroke="#151515" stroke-width="1"/>
<rect x="452.7" y="92.0" width="4.6" height="1.6" rx="0" fill="#ddd" stroke="#151515" stroke-width="0"/>
<rect x="459.7" y="92.0" width="2.8" height="1.6" rx="0" fill="#ddd" stroke="#151515" stroke-width="0"/>
<rect x="468.1" y="92.0" width="2.8" height="1.6" rx="0" fill="#ddd" stroke="#151515" stroke-width="0"/>
<rect x="473.3" y="92.0" width="4.2" height="1.6" rx="0" fill="#ddd" stroke="#151515" stroke-width="0"/>
<circle cx="458.8" cy="102.2" r="4.3" fill="none" stroke="#151515" stroke-width="1.2"/>
<circle cx="458.8" cy="102.2" r="2.0" fill="none" stroke="#151515" stroke-width="1.0"/>
<line x1="453.6" y1="102.2" x2="455.8" y2="102.2" stroke="#151515" stroke-width="0.8"/>
<line x1="461.8" y1="102.2" x2="464.0" y2="102.2" stroke="#151515" stroke-width="0.8"/>
<line x1="458.8" y1="97.0" x2="458.8" y2="99.2" stroke="#151515" stroke-width="0.8"/>
<line x1="458.8" y1="105.2" x2="458.8" y2="107.4" stroke="#151515" stroke-width="0.8"/>
<circle cx="471.9" cy="102.2" r="4.3" fill="none" stroke="#151515" stroke-width="1.2"/>
<circle cx="471.9" cy="102.2" r="2.0" fill="none" stroke="#151515" stroke-width="1.0"/>
<line x1="466.7" y1="102.2" x2="468.9" y2="102.2" stroke="#151515" stroke-width="0.8"/>
<line x1="474.9" y1="102.2" x2="477.1" y2="102.2" stroke="#151515" stroke-width="0.8"/>
<line x1="471.9" y1="97.0" x2="471.9" y2="99.2" stroke="#151515" stroke-width="0.8"/>
<line x1="471.9" y1="105.2" x2="471.9" y2="107.4" stroke="#151515" stroke-width="0.8"/>
<rect x="525.5" y="155.5" width="18.0" height="28.0" rx="2.2" fill="#fff" stroke="#151515" stroke-width="1.3"/>
<rect x="526.5" y="156.5" width="14.0" height="12.0" rx="2.2" fill="none" stroke="#151515" stroke-width="1.2"/>
<rect x="526.5" y="170.5" width="14.0" height="12.0" rx="2.2" fill="none" stroke="#151515" stroke-width="1.2"/>
<circle cx="535.1" cy="163.0" r="0.9" fill="#151515" stroke="#151515" stroke-width="0"/>
<circle cx="535.1" cy="176.0" r="0.9" fill="#151515" stroke="#151515" stroke-width="0"/>
<path d="M536.2 165.5 L540.6 167.6 M538.5 168.2 L541.5 171.5" fill="none" stroke="#151515" stroke-width="1.4" />
<circle cx="540.9" cy="167.6" r="1.1" fill="#151515" stroke="#151515" stroke-width="0"/>
<rect x="404.5" y="194.5" width="38.0" height="24.0" rx="0" fill="none" stroke="#151515" stroke-width="1.0"/>
<rect x="405.5" y="195.5" width="15.0" height="22.0" rx="0" fill="none" stroke="#151515" stroke-width="1"/>
<line x1="405.4" y1="195.6" x2="420.6" y2="217.6" stroke="#151515" stroke-width="0.8"/>
<line x1="420.6" y1="195.6" x2="405.4" y2="217.6" stroke="#151515" stroke-width="0.8"/>
<rect x="421.5" y="195.5" width="20.0" height="22.0" rx="0" fill="none" stroke="#151515" stroke-width="1"/>
<line x1="421.6" y1="195.6" x2="441.4" y2="217.6" stroke="#151515" stroke-width="0.8"/>
<line x1="441.4" y1="195.6" x2="421.6" y2="217.6" stroke="#151515" stroke-width="0.8"/>
<line x1="421.0" y1="192.6" x2="421.0" y2="219.0" stroke="#151515" stroke-width="1.4"/>
<ellipse cx="427.9" cy="273.4" rx="14.2" ry="9.2" fill="#fff" stroke="#151515" stroke-width="1.8"/>
<circle cx="427.9" cy="273.4" r="1.1" fill="#151515" stroke="#151515" stroke-width="0"/>
<line x1="427.9" y1="279.5" x2="427.9" y2="285.6" stroke="#151515" stroke-width="1.8"/>
<line x1="421.0" y1="284.5" x2="425.5" y2="284.5" stroke="#151515" stroke-width="1"/>
<line x1="430.3" y1="284.5" x2="434.4" y2="284.5" stroke="#151515" stroke-width="1"/>
<path d="M487.6 261.4 L495 261.4 Q496.6 261.4 497.2 263.4 Q500.2 272 500.5 279.7 L481.5 279.7 Q481.8 272 484.8 263.4 Q485.4 261.4 487.6 261.4 Z" fill="#fff" stroke="#151515" stroke-width="1.7" />
<rect x="481.5" y="279.5" width="19.0" height="3.0" rx="0" fill="#999" stroke="#151515" stroke-width="1.2"/>
<rect x="481.5" y="282.5" width="3.0" height="8.0" rx="0" fill="none" stroke="#151515" stroke-width="1"/>
<rect x="497.5" y="282.5" width="3.0" height="8.0" rx="0" fill="none" stroke="#151515" stroke-width="1"/>
<line x1="516.1" y1="227.9" x2="529.0" y2="227.9" stroke="#151515" stroke-width="2.4"/>
<line x1="522.6" y1="227.9" x2="522.6" y2="234.5" stroke="#151515" stroke-width="1.4"/>
<circle cx="522.6" cy="235.0" r="0.9" fill="#151515" stroke="#151515" stroke-width="0"/>
<circle cx="541.2" cy="231.1" r="1.7" fill="none" stroke="#151515" stroke-width="1"/>
<rect x="439.5" y="297.5" width="74.0" height="14.0" rx="0" fill="#fff" stroke="#151515" stroke-width="1.1"/>
<line x1="452.5" y1="297.2" x2="452.5" y2="311.0" stroke="#151515" stroke-width="1"/>
<line x1="501.5" y1="297.2" x2="501.5" y2="311.0" stroke="#151515" stroke-width="1"/>
<rect x="441.5" y="298.5" width="9.0" height="11.0" rx="0" fill="none" stroke="#151515" stroke-width="0.9"/>
<rect x="442.5" y="299.5" width="8.0" height="4.0" rx="0" fill="none" stroke="#151515" stroke-width="0.8"/>
<rect x="443.5" y="305.5" width="6.0" height="4.0" rx="0" fill="none" stroke="#151515" stroke-width="0.8"/>
<rect x="503.5" y="298.5" width="8.0" height="11.0" rx="0" fill="none" stroke="#151515" stroke-width="0.9"/>
<rect x="503.5" y="299.5" width="8.0" height="4.0" rx="0" fill="none" stroke="#151515" stroke-width="0.8"/>
<rect x="504.5" y="305.5" width="6.0" height="4.0" rx="0" fill="none" stroke="#151515" stroke-width="0.8"/>
<rect x="454.5" y="298.5" width="45.0" height="7.0" rx="0" fill="none" stroke="#151515" stroke-width="1"/>
<rect x="457.5" y="300.5" width="38.0" height="4.0" rx="0" fill="none" stroke="#151515" stroke-width="0.9"/>
<line x1="452.3" y1="306.0" x2="501.2" y2="306.0" stroke="#151515" stroke-width="0.9"/>
<path d="M406.5 388.5 L406.5 364.5 L538.5 364.5 L538.5 388.5" fill="none" stroke="#3a3a3a" stroke-width="0.9"/>
<line x1="406.8" y1="427.1" x2="406.8" y2="432.5" stroke="#3a3a3a" stroke-width="0.9"/>
<line x1="538.2" y1="427.1" x2="538.2" y2="432.5" stroke="#3a3a3a" stroke-width="0.9"/>
<path d="M408.5 388.5 L408.5 366.5 L536.5 366.5 L536.5 388.5" fill="none" stroke="#3a3a3a" stroke-width="0.9"/>
<line x1="408.9" y1="427.1" x2="408.9" y2="432.5" stroke="#3a3a3a" stroke-width="0.9"/>
<line x1="536.1" y1="427.1" x2="536.1" y2="432.5" stroke="#3a3a3a" stroke-width="0.9"/>
<path d="M411.5 388.5 L411.5 368.5 L534.5 368.5 L534.5 388.5" fill="none" stroke="#3a3a3a" stroke-width="0.9"/>
<line x1="411.0" y1="427.1" x2="411.0" y2="432.5" stroke="#3a3a3a" stroke-width="0.9"/>
<line x1="534.0" y1="427.1" x2="534.0" y2="432.5" stroke="#3a3a3a" stroke-width="0.9"/>
<g transform="translate(398.8 388.5) scale(1 1)" stroke="#151515" fill="#fff" stroke-width="1.3"><path d="M9.8 7 L30.5 7 Q33.5 7 33.5 10 L33.5 28.8 Q33.5 31.8 30.5 31.8 L9.8 31.8 Z"/><path d="M3 7 L8 7 Q9.8 7 9.8 8.8 L9.8 30 Q9.8 31.8 8 31.8 L3 31.8 Q0 31.8 0 28.8 Q-1.2 19.4 0 10 Q0 7 3 7 Z"/><path d="M8.6 8 Q11.2 19.4 8.6 30.8" fill="none" stroke-width="1"/><rect x="5" y="0" width="27.8" height="7" rx="2.6"/><rect x="5" y="31.8" width="27.8" height="6.8" rx="2.6"/><path d="M9.2 0.4 Q7.2 3.5 9.2 6.6 M9.2 32.2 Q7.2 35.2 9.2 38.2 M29.6 0.3 Q31.2 3.5 29.6 6.7 M29.6 32.1 Q31.2 35.2 29.6 38.3" fill="none" stroke-width="0.9"/></g>
<g transform="translate(550.1 388.5) scale(-1 1)" stroke="#151515" fill="#fff" stroke-width="1.3"><path d="M9.8 7 L30.5 7 Q33.5 7 33.5 10 L33.5 28.8 Q33.5 31.8 30.5 31.8 L9.8 31.8 Z"/><path d="M3 7 L8 7 Q9.8 7 9.8 8.8 L9.8 30 Q9.8 31.8 8 31.8 L3 31.8 Q0 31.8 0 28.8 Q-1.2 19.4 0 10 Q0 7 3 7 Z"/><path d="M8.6 8 Q11.2 19.4 8.6 30.8" fill="none" stroke-width="1"/><rect x="5" y="0" width="27.8" height="7" rx="2.6"/><rect x="5" y="31.8" width="27.8" height="6.8" rx="2.6"/><path d="M9.2 0.4 Q7.2 3.5 9.2 6.6 M9.2 32.2 Q7.2 35.2 9.2 38.2 M29.6 0.3 Q31.2 3.5 29.6 6.7 M29.6 32.1 Q31.2 35.2 29.6 38.3" fill="none" stroke-width="0.9"/></g>
<rect x="452.8" y="388.9" width="46.0" height="24.4" rx="0" fill="#fff" stroke="#151515" stroke-width="1.7"/>
<line x1="452.8" y1="403.1" x2="463.3" y2="413.3" stroke="#151515" stroke-width="1"/>
<line x1="481.3" y1="396.4" x2="497.9" y2="411.6" stroke="#151515" stroke-width="0.9"/>
<line x1="483.0" y1="396.0" x2="498.6" y2="410.0" stroke="#151515" stroke-width="0.9"/>
<path d="M479.1 399.5 L474.2 400.0 L479.0 403.0 L473.5 400.9 L476.3 405.5 L472.9 402.1 L472.7 405.7 L471.5 402.5 L469.6 405.3 L470.2 401.9 L467.0 403.6 L469.9 400.5 L464.7 401.2 L467.9 399.5 L465.4 398.0 L469.7 398.4 L466.0 394.5 L469.5 396.2 L469.1 392.6 L471.5 396.7 L473.0 391.3 L472.6 397.6 L476.7 392.9 L473.9 397.8 L477.9 396.5 L474.1 399.0 Z" fill="#111" stroke="#111" stroke-width="0.6"/>
<line x1="471.9" y1="399.5" x2="468.8" y2="407.5" stroke="#111" stroke-width="0.9"/>
<line x1="471.9" y1="399.5" x2="475.3" y2="406.7" stroke="#111" stroke-width="0.9"/>
<line x1="471.9" y1="399.5" x2="467.1" y2="393.8" stroke="#111" stroke-width="0.9"/>
<line x1="471.9" y1="399.5" x2="465.5" y2="397.5" stroke="#111" stroke-width="0.9"/>
<line x1="471.9" y1="399.5" x2="478.4" y2="402.1" stroke="#111" stroke-width="0.9"/>
<line x1="471.9" y1="399.5" x2="468.7" y2="392.6" stroke="#111" stroke-width="0.9"/>
<line x1="471.9" y1="399.5" x2="468.8" y2="406.8" stroke="#111" stroke-width="0.9"/>
<line x1="471.9" y1="399.5" x2="465.0" y2="401.6" stroke="#111" stroke-width="0.9"/>
<line x1="471.9" y1="399.5" x2="474.2" y2="391.6" stroke="#111" stroke-width="0.9"/>
<line x1="471.9" y1="399.5" x2="472.2" y2="407.4" stroke="#111" stroke-width="0.9"/>
<path d="M437.7 425 L507.2 425 Q510.2 425 510.2 428 L510.2 449.8 L434.7 449.8 L434.7 428 Q434.7 425 437.7 425 Z" fill="#fff" stroke="#151515" stroke-width="1.5" />
<line x1="460.5" y1="425.6" x2="460.5" y2="449.8" stroke="#151515" stroke-width="1.2"/>
<line x1="485.5" y1="425.6" x2="485.5" y2="449.8" stroke="#151515" stroke-width="1.2"/>
<path d="M435.2 449.8 L460.0 449.8 L460.0 454.8 Q460.0 459 456.0 459 L439.2 459 Q435.2 459 435.2 454.8 Z" fill="#fff" stroke="#151515" stroke-width="1.2" />
<path d="M460.9 449.8 L484.6 449.8 L484.6 454.8 Q484.6 459 480.6 459 L464.9 459 Q460.9 459 460.9 454.8 Z" fill="#fff" stroke="#151515" stroke-width="1.2" />
<path d="M485.6 449.8 L510.0 449.8 L510.0 454.8 Q510.0 459 506.0 459 L489.6 459 Q485.6 459 485.6 454.8 Z" fill="#fff" stroke="#151515" stroke-width="1.2" />
<rect x="428.4" y="428.1" width="6.3" height="26.3" rx="2.6" fill="#fff" stroke="#151515" stroke-width="1.5"/>
<rect x="510.2" y="428.1" width="6.2" height="26.3" rx="2.6" fill="#fff" stroke="#151515" stroke-width="1.5"/>
<line x1="429.2" y1="431.5" x2="434.0" y2="431.5" stroke="#151515" stroke-width="0.9"/>
<line x1="511.0" y1="431.5" x2="515.8" y2="431.5" stroke="#151515" stroke-width="0.9"/>
<line x1="429.2" y1="451.0" x2="434.0" y2="451.0" stroke="#151515" stroke-width="0.9"/>
<line x1="511.0" y1="451.0" x2="515.8" y2="451.0" stroke="#151515" stroke-width="0.9"/>
<line x1="424.6" y1="440.3" x2="428.4" y2="440.3" stroke="#151515" stroke-width="0.8"/>
<line x1="424.6" y1="442.5" x2="428.4" y2="442.5" stroke="#151515" stroke-width="0.8"/>
<line x1="424.6" y1="444.6" x2="428.4" y2="444.6" stroke="#151515" stroke-width="0.8"/>
<line x1="516.4" y1="440.3" x2="521.7" y2="440.3" stroke="#151515" stroke-width="0.8"/>
<line x1="516.4" y1="442.5" x2="521.7" y2="442.5" stroke="#151515" stroke-width="0.8"/>
<line x1="516.4" y1="444.6" x2="521.7" y2="444.6" stroke="#151515" stroke-width="0.8"/>
<rect x="405.2" y="432.5" width="19.4" height="19.5" rx="1" fill="#fff" stroke="#151515" stroke-width="2"/>
<circle cx="414.9" cy="442.2" r="4.6" fill="none" stroke="#151515" stroke-width="1.1"/>
<circle cx="414.9" cy="442.2" r="2.6" fill="none" stroke="#151515" stroke-width="1"/>
<circle cx="414.9" cy="442.2" r="0.8" fill="#151515" stroke="#151515" stroke-width="0"/>
<line x1="408.6" y1="442.2" x2="421.2" y2="442.2" stroke="#151515" stroke-width="0.8"/>
<line x1="414.9" y1="435.9" x2="414.9" y2="448.6" stroke="#151515" stroke-width="0.8"/>
<rect x="521.7" y="432.5" width="20.0" height="19.5" rx="1" fill="#fff" stroke="#151515" stroke-width="2"/>
<circle cx="531.7" cy="442.2" r="4.6" fill="none" stroke="#151515" stroke-width="1.1"/>
<circle cx="531.7" cy="442.2" r="2.6" fill="none" stroke="#151515" stroke-width="1"/>
<circle cx="531.7" cy="442.2" r="0.8" fill="#151515" stroke="#151515" stroke-width="0"/>
<line x1="525.4" y1="442.2" x2="538.0" y2="442.2" stroke="#151515" stroke-width="0.8"/>
<line x1="531.7" y1="435.9" x2="531.7" y2="448.6" stroke="#151515" stroke-width="0.8"/>
<rect x="191.5" y="274.5" width="63.0" height="3.0" rx="0" fill="none" stroke="#151515" stroke-width="1.1"/>
<line x1="218.5" y1="277.2" x2="218.5" y2="318.3" stroke="#3a3a3a" stroke-width="1.1"/>
<line x1="229.5" y1="277.2" x2="229.5" y2="318.3" stroke="#3a3a3a" stroke-width="1.1"/>
<line x1="239.5" y1="277.2" x2="239.5" y2="318.3" stroke="#3a3a3a" stroke-width="1.1"/>
<line x1="250.5" y1="277.2" x2="250.5" y2="318.3" stroke="#3a3a3a" stroke-width="1.1"/>
<line x1="207.5" y1="277.2" x2="207.5" y2="304.0" stroke="#3a3a3a" stroke-width="1.1"/>
<path d="M191.2 275.4 L202.1 293.9 L204.6 292.3 L199.1 300.8 L202.8 298.8 L212.5 318.3" fill="none" stroke="#222" stroke-width="1"/>
<path d="M193.5 277.5 L196.5 286.5" fill="none" stroke="#222" stroke-width="0.8"/>
<line x1="207.3" y1="296.5" x2="255.5" y2="296.5" stroke="#222" stroke-width="1"/>
<path d="M212.8 296.6 L220 295.1 L220 298.1 Z" fill="#111" stroke="#111" stroke-width="0.6" />
<text transform="translate(269.0 113.2) rotate(0) scale(0.64 1)" font-family='"Liberation Serif", "Noto Serif CJK SC", serif' font-size="13" font-weight="900" fill="#111" text-anchor="middle" >餐厅</text>
<text transform="translate(459.5 159.0) rotate(0) scale(0.64 1)" font-family='"Liberation Serif", "Noto Serif CJK SC", serif' font-size="13" font-weight="900" fill="#111" text-anchor="middle" >厨房</text>
<text transform="translate(466.1 349.4) rotate(0) scale(0.64 1)" font-family='"Liberation Serif", "Noto Serif CJK SC", serif' font-size="13" font-weight="900" fill="#111" text-anchor="middle" >客厅</text>
<text transform="translate(158.1 180.2) scale(0.64 -1)" font-family='"Liberation Serif", "Noto Serif CJK SC", serif' font-size="13" font-weight="900" fill="#111" text-anchor="middle">卧室</text>
<text transform="translate(201.9 406.7) scale(0.64 -1)" font-family='"Liberation Serif", "Noto Serif CJK SC", serif' font-size="13" font-weight="900" fill="#111" text-anchor="middle">卧室</text>
<text transform="translate(266.0 303.0) rotate(0) scale(0.8 1)" font-family='"Liberation Sans", "Noto Sans CJK SC", sans-serif' font-size="13.5" font-weight="300" fill="#333" text-anchor="middle" >上</text>
<text transform="translate(313.6 289.0) rotate(-40.5)" font-family='"Liberation Sans", "Noto Sans CJK SC", sans-serif' font-size="22" font-weight="400" letter-spacing="1.1" fill="#787878" text-anchor="middle" dominant-baseline="central">图纸之家</text>
<text transform="translate(158.5 139.2) rotate(-40.5)" font-family='"Liberation Sans", "Noto Sans CJK SC", sans-serif' font-size="22" font-weight="400" letter-spacing="1.1" fill="#787878" text-anchor="middle" dominant-baseline="central">图纸之家</text>
<text transform="translate(497.6 114.7) rotate(-41)" font-family='"Liberation Sans", "Noto Sans CJK SC", sans-serif' font-size="22" font-weight="400" letter-spacing="1.1" fill="#787878" text-anchor="middle" dominant-baseline="central">图纸之家</text>
<text transform="translate(128.3 451.6) rotate(-41.5)" font-family='"Liberation Sans", "Noto Sans CJK SC", sans-serif' font-size="22" font-weight="400" letter-spacing="1.1" fill="#787878" text-anchor="middle" dominant-baseline="central">图纸之家</text>
<text transform="translate(466.5 442.6) rotate(-40)" font-family='"Liberation Sans", "Noto Sans CJK SC", sans-serif' font-size="22" font-weight="400" letter-spacing="1.1" fill="#787878" text-anchor="middle" dominant-baseline="central">图纸之家</text>
</svg></body></html>
